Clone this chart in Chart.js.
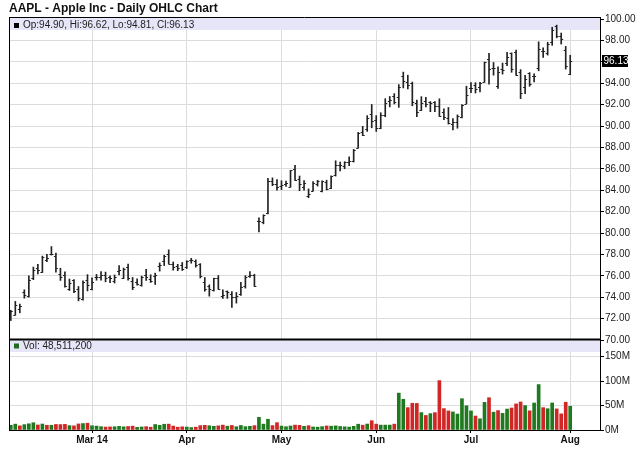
<!DOCTYPE html>
<html>
<head>
<meta charset="utf-8">
<title>AAPL - Apple Inc - Daily OHLC Chart</title>
<script src="https://cdn.jsdelivr.net/npm/chart.js@4.4.1/dist/chart.umd.min.js"></script>
<style>
  html, body { margin: 0; padding: 0; background: #fff; }
</style>
</head>
<body>
<canvas id="chart" width="640" height="468"></canvas>
<script>
// trading days Feb 4 2014 .. Aug 1 2014 (index 0..124)
const monthTickIdx = [18, 39, 60, 81, 102, 124];
const monthTickLabels = ['Mar 14', 'Apr', 'May', 'Jun', 'Jul', 'Aug'];
const priceTicks = [70, 72, 74, 76, 78, 80, 82, 84, 86, 88, 90, 92, 94, 96, 98, 100];
const volumeTicks = [0, 50, 100, 150];

const opens = [
  72.26, 72.37, 72.87, 74.48, 74.09, 75.80, 76.71, 76.38, 77.50, 78.00, 77.82, 76.14, 76.11, 74.74, 75.63, 74.80, 73.88, 75.58,
  74.77, 75.86, 75.85, 76.11, 75.87, 75.48, 76.49, 75.83, 76.78, 75.54, 75.38, 75.13, 76.04, 75.70, 75.99, 76.92, 77.36, 78.07, 77.07, 76.90, 77.04,
  76.82, 77.48, 77.34, 77.12, 75.43, 75.03, 74.66, 75.81, 74.14, 74.56, 74.32, 74.01, 74.29, 75.05, 75.95, 76.06, 81.17, 81.00, 81.83, 84.82, 84.56,
  84.36, 84.62, 84.31, 85.97, 85.04, 84.30, 83.51, 83.93, 84.57, 83.95, 84.81, 84.18, 85.41, 86.36, 86.26, 86.66, 86.75, 87.98, 89.43, 89.69, 91.14,
  90.57, 89.78, 91.06, 92.31, 92.84, 92.70, 94.73, 94.13, 94.04, 92.20, 91.51, 92.31, 92.27, 92.29, 91.85, 91.32, 90.75, 90.21, 90.37, 90.82, 92.10,
  93.52, 93.87, 93.67, 94.14, 96.27, 95.44, 93.76, 95.36, 95.86, 96.80, 96.97, 95.03, 93.62, 94.99, 94.68, 95.42, 97.04, 96.85, 97.82, 99.33, 98.44, 97.16,
  94.90
];
const highs = [
  72.78, 73.61, 73.36, 74.70, 76.00, 76.82, 77.08, 77.84, 78.00, 78.74, 78.13, 76.71, 76.37, 75.70, 75.65, 75.00, 75.54, 76.11,
  75.81, 76.13, 76.39, 76.35, 75.99, 76.08, 76.96, 76.73, 77.10, 75.85, 75.71, 75.98, 76.61, 76.10, 76.25, 77.21, 77.93, 78.43, 77.29, 77.08, 77.25,
  77.41, 77.64, 77.50, 77.14, 75.84, 75.16, 75.78, 76.03, 74.69, 74.59, 74.52, 74.44, 75.39, 76.02, 76.39, 76.15, 81.43, 81.71, 85.11, 85.16, 85.00,
  84.89, 84.86, 85.86, 86.34, 85.33, 84.91, 84.13, 84.81, 84.93, 84.88, 84.94, 85.36, 86.76, 86.63, 86.67, 87.12, 87.82, 89.41, 89.98, 90.98, 92.02,
  90.98, 91.25, 92.56, 92.77, 93.04, 93.88, 95.05, 94.76, 94.12, 92.44, 92.75, 92.70, 92.29, 92.30, 92.55, 91.62, 91.74, 90.70, 91.05, 92.00, 93.73,
  94.07, 94.06, 94.10, 95.99, 96.80, 95.95, 95.55, 95.89, 96.89, 96.85, 97.10, 95.28, 94.74, 95.00, 94.89, 97.88, 97.32, 97.84, 99.24, 99.44, 98.70, 97.45,
  96.62
];
const lows = [
  71.82, 72.32, 72.54, 73.91, 74.00, 75.64, 76.18, 76.31, 77.32, 77.94, 76.34, 75.57, 74.94, 74.63, 74.43, 73.66, 73.72, 74.59,
  74.69, 75.59, 75.59, 75.44, 75.37, 75.33, 76.08, 75.74, 75.60, 74.71, 75.12, 75.03, 75.57, 75.38, 75.19, 76.44, 76.96, 77.10, 76.53, 76.48, 76.50,
  76.68, 77.18, 76.81, 75.80, 74.56, 74.10, 74.57, 74.74, 73.88, 73.89, 73.05, 73.45, 74.17, 74.85, 75.84, 75.01, 80.10, 80.86, 81.79, 84.43, 84.00,
  84.06, 84.37, 84.29, 84.92, 83.96, 84.00, 83.30, 83.91, 84.39, 83.85, 84.03, 84.16, 85.33, 85.82, 86.01, 86.30, 86.64, 87.95, 89.11, 89.50, 89.84,
  89.50, 89.75, 90.87, 91.80, 92.07, 91.75, 93.57, 93.47, 91.90, 90.88, 91.45, 91.80, 91.35, 91.34, 90.90, 90.60, 90.19, 89.65, 89.80, 90.77, 92.09,
  93.13, 93.09, 93.20, 94.10, 93.92, 94.76, 93.52, 94.86, 95.65, 95.03, 94.74, 92.57, 93.02, 93.72, 94.12, 95.17, 96.42, 96.64, 97.55, 98.25, 97.67, 95.33,
  94.81
];
const closes = [
  72.68, 73.23, 73.22, 74.24, 75.57, 76.57, 76.56, 77.78, 77.71, 78.00, 76.77, 75.88, 75.04, 75.36, 74.58, 73.91, 75.38, 75.18,
  75.39, 75.89, 76.05, 75.82, 75.78, 75.85, 76.58, 76.66, 75.81, 74.96, 75.25, 75.91, 75.89, 75.53, 76.12, 77.03, 77.86, 77.11, 76.78, 76.69, 76.68,
  77.38, 77.51, 76.97, 75.97, 74.78, 74.78, 75.76, 74.78, 74.23, 74.53, 73.99, 74.14, 74.99, 75.88, 76.05, 75.05, 81.11, 81.71, 84.87, 84.62, 84.30,
  84.50, 84.65, 85.85, 84.92, 84.62, 84.67, 83.65, 84.69, 84.82, 84.84, 84.12, 85.36, 86.37, 86.39, 86.62, 86.75, 87.73, 89.38, 89.14, 90.77, 90.43,
  89.81, 91.08, 92.12, 92.48, 92.22, 93.70, 94.25, 93.86, 92.29, 91.28, 92.20, 92.08, 92.18, 91.86, 90.91, 90.83, 90.28, 90.36, 90.90, 91.98, 92.93,
  93.52, 93.48, 94.03, 95.97, 95.35, 95.39, 95.04, 95.22, 96.45, 95.32, 94.78, 93.09, 94.43, 93.94, 94.72, 97.19, 97.03, 97.67, 99.02, 98.38, 98.15, 95.60,
  96.13
];
// volume in millions of shares (pre-split share counts before Jun 9)
const volumeM = [
  9.5, 12.0, 8.5, 11.0, 12.7, 14.8, 10.3, 12.2, 9.7, 9.7, 11.3, 11.1, 11.5, 8.9, 8.5, 12.4, 13.2, 13.9,
  8.7, 8.0, 6.8, 6.0, 6.3, 6.6, 7.4, 6.5, 7.2, 7.9, 5.5, 6.2, 6.8, 5.7, 11.2, 9.5, 11.8, 12.0, 8.0, 5.7, 6.5,
  6.0, 5.0, 5.8, 9.0, 9.5, 8.7, 7.5, 8.5, 10.0, 7.8, 9.4, 6.7, 9.3, 6.8, 7.6, 8.9, 26.0, 12.0, 22.0, 9.0, 15.0,
  8.0, 6.7, 8.2, 10.0, 9.5, 7.5, 8.8, 6.2, 5.8, 6.9, 8.3, 7.8, 8.4, 7.2, 6.5, 6.0, 7.5, 11.8, 9.8, 12.2, 19.0,
  12.0, 10.0, 10.0, 10.0, 12.0, 75.4, 62.8, 45.7, 54.7, 54.3, 35.6, 29.7, 33.5, 35.5, 100.9, 43.7, 39.0, 36.9, 32.6, 64.0, 49.6,
  39.0, 28.6, 22.9, 56.5, 66.0, 36.4, 39.7, 34.0, 42.8, 45.0, 53.4, 57.3, 49.9, 39.2, 55.2, 92.9, 45.7, 43.5, 55.3, 43.1, 33.0, 56.8,
  48.5112
];

const FONT = "'Liberation Sans', Arial, sans-serif";
const UP = '#1f7a1f';
const DOWN = '#d02626';
const BAND = '#e6e6f8';
const GRID = '#dcdcdc';

const last = closes.length - 1;
const idx = closes.map((c, i) => i);
const volColors = closes.map((c, i) => c >= (i ? closes[i - 1] : opens[i]) ? UP : DOWN);

const panels = {
  id: 'panels',
  beforeDatasetsDraw(chart) {
    const { ctx, chartArea: a, scales: { y, yv } } = chart;
    ctx.save();
    ctx.fillStyle = BAND;
    ctx.fillRect(a.left, y.top, a.right - a.left, 13);
    ctx.fillRect(a.left, yv.top, a.right - a.left, 12);
    ctx.restore();
  },
  afterDatasetsDraw(chart) {
    // open (left) and close (right) ticks of each OHLC bar
    const { ctx, chartArea: a, scales: { x, y } } = chart;
    ctx.save();
    ctx.beginPath();
    ctx.rect(a.left, a.top, a.right - a.left, a.bottom - a.top);
    ctx.clip();
    ctx.strokeStyle = '#222';
    ctx.lineWidth = 1;
    ctx.beginPath();
    closes.forEach((c, i) => {
      const px = x.getPixelForValue(i);
      const yo = Math.round(y.getPixelForValue(opens[i])) + 0.5;
      const yc = Math.round(y.getPixelForValue(c)) + 0.5;
      ctx.moveTo(px - 2, yo); ctx.lineTo(px, yo);
      ctx.moveTo(px, yc); ctx.lineTo(px + 2, yc);
    });
    ctx.stroke();
    ctx.restore();
  },
  afterDraw(chart) {
    const { ctx, chartArea: a, scales: { y, yv } } = chart;
    ctx.save();
    // panel frame
    ctx.strokeStyle = '#000';
    ctx.lineWidth = 1;
    ctx.beginPath();
    ctx.moveTo(a.left + 0.5, a.top); ctx.lineTo(a.left + 0.5, a.bottom);
    ctx.moveTo(a.left, a.top + 0.5); ctx.lineTo(a.right, a.top + 0.5);
    ctx.stroke();
    ctx.lineWidth = 2;
    ctx.beginPath();
    ctx.moveTo(a.left, y.bottom - 0.5); ctx.lineTo(a.right, y.bottom - 0.5);
    ctx.stroke();

    // panel headers
    ctx.font = '10px ' + FONT;
    ctx.textBaseline = 'middle';
    ctx.textAlign = 'left';
    ctx.fillStyle = '#000';
    ctx.fillRect(a.left + 5, y.top + 6, 5, 5);
    ctx.fillStyle = '#222';
    ctx.fillText('Op:' + opens[last].toFixed(2) + ', Hi:' + highs[last].toFixed(2) +
      ', Lo:' + lows[last].toFixed(2) + ', Cl:' + closes[last].toFixed(2), a.left + 14, y.top + 8.5);
    ctx.fillStyle = '#1f6a1f';
    ctx.fillRect(a.left + 5, yv.top + 3.5, 5, 5);
    ctx.fillStyle = '#222';
    ctx.fillText('Vol: ' + Math.round(volumeM[last] * 1e6).toLocaleString('en-US'), a.left + 14, yv.top + 6.5);

    // last price marker on the axis
    const py = y.getPixelForValue(closes[last]);
    ctx.fillStyle = '#000';
    ctx.fillRect(a.right + 2, Math.round(py) - 6, 26, 12);
    ctx.fillStyle = '#fff';
    ctx.fillText(closes[last].toFixed(2), a.right + 3.5, py + 0.5);
    ctx.restore();
  }
};

new Chart(document.getElementById('chart'), {
  type: 'bar',
  data: {
    datasets: [
      {
        label: 'AAPL',
        yAxisID: 'y',
        data: idx.map(i => ({ x: i, y: [lows[i], highs[i]] })),
        backgroundColor: '#222',
        borderWidth: 0,
        barThickness: 1,
        grouped: false
      },
      {
        label: 'Volume',
        yAxisID: 'yv',
        data: idx.map(i => ({ x: i, y: volumeM[i] })),
        backgroundColor: volColors,
        borderWidth: 0,
        barThickness: 3,
        grouped: false
      }
    ]
  },
  options: {
    responsive: false,
    animation: false,
    layout: { padding: { left: 9, right: 0, top: 0, bottom: 0 } },
    plugins: {
      legend: { display: false },
      tooltip: { enabled: false },
      title: {
        display: true,
        text: 'AAPL - Apple Inc - Daily OHLC Chart',
        align: 'start',
        color: '#111',
        font: { family: FONT, size: 12, weight: 'bold', lineHeight: 1.2 },
        padding: { top: 1, bottom: 1.6 }
      }
    },
    scales: {
      x: {
        type: 'linear',
        offset: false,
        min: -0.4,
        max: 130.6,
        afterBuildTicks: s => { s.ticks = monthTickIdx.map(v => ({ value: v })); },
        afterFit: s => { s.height = 38; },
        grid: { offset: false, color: GRID, tickColor: '#000', tickLength: 3 },
        border: { color: '#000' },
        ticks: {
          autoSkip: false,
          maxRotation: 0,
          padding: 1,
          color: '#111',
          font: { family: FONT, size: 10, weight: 'bold' },
          callback: (v, i) => monthTickLabels[i]
        }
      },
      y: {
        position: 'right',
        stack: 'panes',
        stackWeight: 323,
        min: 70,
        max: 100.2,
        afterBuildTicks: s => { s.ticks = priceTicks.map(v => ({ value: v })); },
        afterFit: s => { s.width = 40; },
        grid: { color: GRID, tickColor: '#000', tickLength: 4 },
        border: { color: '#000' },
        ticks: {
          autoSkip: false,
          padding: 1,
          color: '#222',
          font: { family: FONT, size: 10 },
          callback: v => Math.abs(v - closes[last]) < 1.2 ? '' : v.toFixed(2)
        }
      },
      yv: {
        position: 'right',
        stack: 'panes',
        stackWeight: 90,
        min: 0,
        max: 184,
        afterBuildTicks: s => { s.ticks = volumeTicks.map(v => ({ value: v })); },
        afterFit: s => { s.width = 40; },
        grid: { color: GRID, tickColor: '#000', tickLength: 4 },
        border: { color: '#000' },
        ticks: {
          autoSkip: false,
          padding: 1,
          color: '#222',
          font: { family: FONT, size: 10 },
          callback: v => v + 'M'
        }
      }
    }
  },
  plugins: [panels]
});
</script>
</body>
</html>
